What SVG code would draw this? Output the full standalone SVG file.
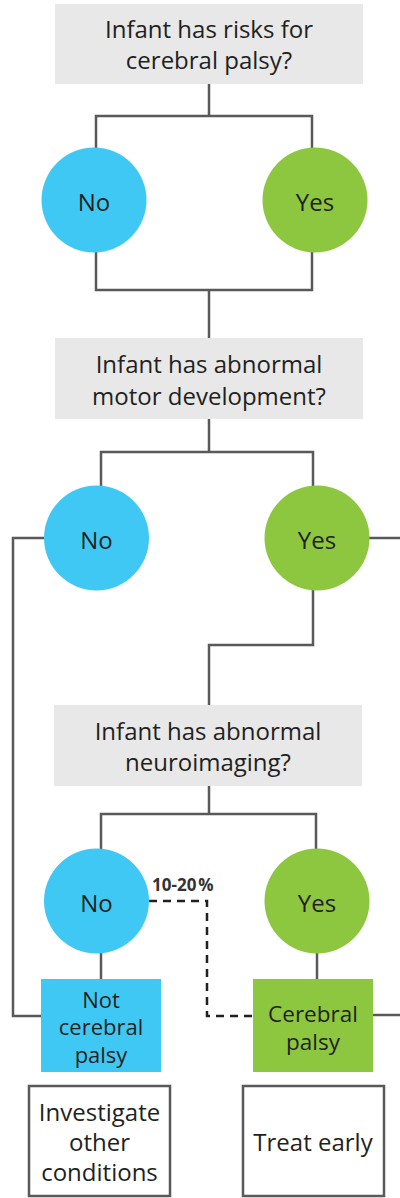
<svg xmlns="http://www.w3.org/2000/svg" width="400" height="1198" viewBox="0 0 400 1198">
<style>
.q{fill:#e8e8e8}
.t{font-family:"Open Sans","Noto Sans",sans-serif;font-size:24px;fill:#231f20;text-anchor:middle}
.s{font-size:22.5px}
.xs{font-size:22px}
.blue{fill:#40c8f4}
.green{fill:#8dc63f}
.ln{fill:none;stroke:#58595b;stroke-width:2.5}
.dash{fill:none;stroke:#231f20;stroke-width:2.5;stroke-dasharray:8 6}
.out{fill:#fff;stroke:#58595b;stroke-width:2.5}
.pct{font-family:"Open Sans","Noto Sans",sans-serif;font-size:17px;font-weight:bold;fill:#333}
</style>
<g id="connectors">
<path class="ln" d="M209 84V116M96 148V116H312V148"/>
<path class="ln" d="M96 252V290H312V252M209 290V338"/>
<path class="ln" d="M209 419V452M101 486V452H313V486"/>
<path class="ln" d="M44 538H13V1016H41"/>
<path class="ln" d="M369 538H400"/>
<path class="ln" d="M313 590V645H209V705"/>
<path class="ln" d="M209 786V814M101 849V814H316V849"/>
<path class="ln" d="M101 953V979M317 953V979"/>
<path class="ln" d="M373 1015H400"/>
<path class="dash" d="M149 901H207V1016H253"/>
<text class="pct" x="152" y="891">10-20<tspan dx="2">%</tspan></text>
</g>
<g id="q1"><rect class="q" x="55" y="4" width="308" height="80"/>
<text class="t" x="209" y="38">Infant has risks for</text>
<text class="t" x="209" y="69">cerebral palsy?</text></g>
<g id="no1"><circle class="blue" cx="94" cy="200" r="52.5"/><text class="t" x="94" y="211">No</text></g>
<g id="yes1"><circle class="green" cx="315" cy="200" r="52.5"/><text class="t" x="315" y="211">Yes</text></g>
<g id="q2"><rect class="q" x="55" y="338" width="308" height="81"/>
<text class="t" x="209" y="373">Infant has abnormal</text>
<text class="t" x="209" y="405">motor development?</text></g>
<g id="no2"><circle class="blue" cx="96.5" cy="538" r="52.5"/><text class="t" x="96.5" y="549">No</text></g>
<g id="yes2"><circle class="green" cx="317" cy="538" r="52.5"/><text class="t" x="317" y="549">Yes</text></g>
<g id="q3"><rect class="q" x="54" y="705" width="308" height="81"/>
<text class="t" x="208" y="740">Infant has abnormal</text>
<text class="t" x="208" y="771">neuroimaging?</text></g>
<g id="no3"><circle class="blue" cx="96.5" cy="901" r="52.5"/><text class="t" x="96.5" y="912">No</text></g>
<g id="yes3"><circle class="green" cx="317" cy="901" r="52.5"/><text class="t" x="317" y="912">Yes</text></g>
<g id="notcp"><rect class="blue" x="41" y="979" width="120" height="93"/>
<text class="t xs" x="101" y="1007.5">Not</text>
<text class="t xs" x="101" y="1035">cerebral</text>
<text class="t xs" x="101" y="1062.5">palsy</text></g>
<g id="cp"><rect class="green" x="253" y="979" width="120" height="93"/>
<text class="t s" x="313" y="1022">Cerebral</text>
<text class="t s" x="313" y="1050">palsy</text></g>
<g id="investigate"><rect class="out" x="29" y="1086" width="141" height="110"/>
<text class="t" x="99.5" y="1121">Investigate</text>
<text class="t" x="99.5" y="1151">other</text>
<text class="t" x="99.5" y="1181">conditions</text></g>
<g id="treat"><rect class="out" x="243" y="1086" width="141" height="110"/>
<text class="t" x="313" y="1151">Treat early</text></g>
</svg>
